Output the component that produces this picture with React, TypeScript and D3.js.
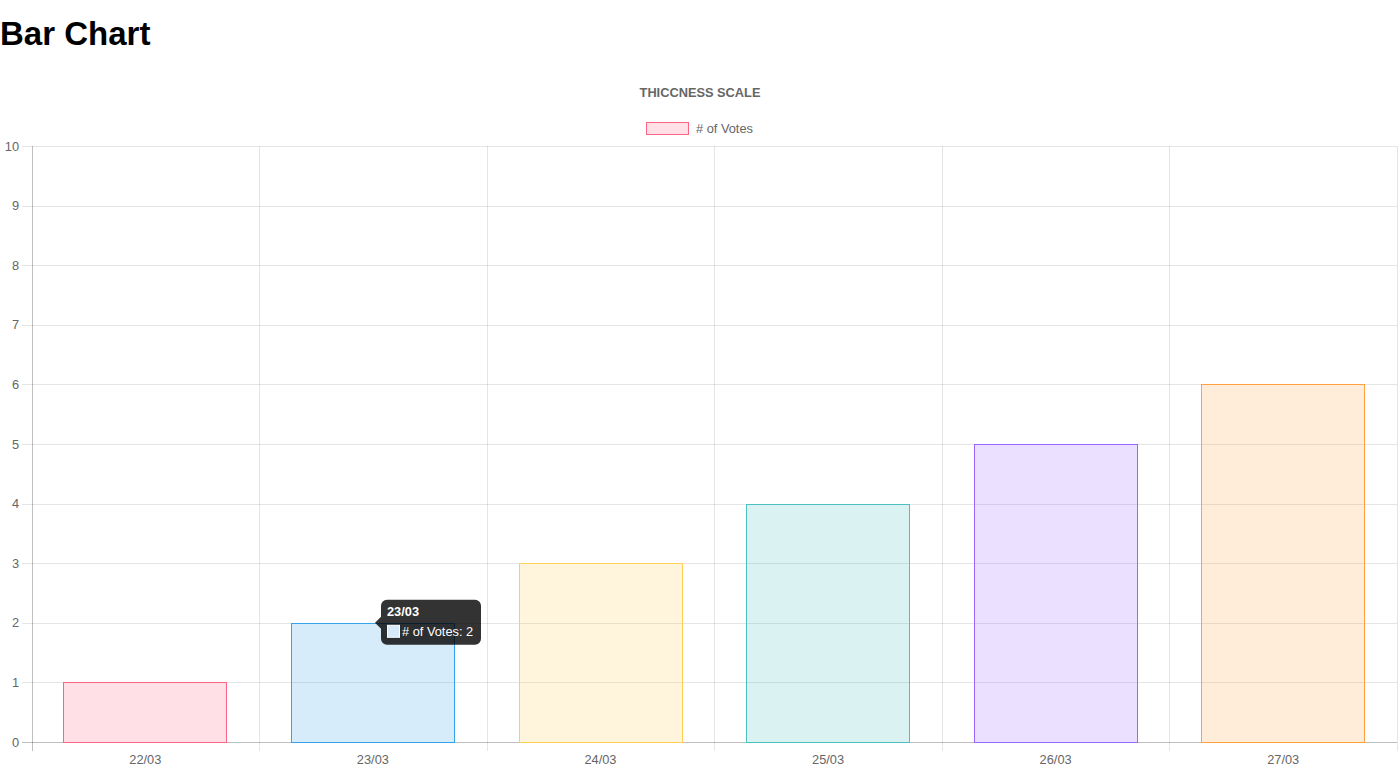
import React from "react";
import * as d3 from "d3";

const categories = ["22/03", "23/03", "24/03", "25/03", "26/03", "27/03"];
const votes = [1, 2, 3, 4, 5, 6];
const borderColors = [
  "rgb(255,99,132)",
  "rgb(54,162,235)",
  "rgb(255,206,86)",
  "rgb(75,192,192)",
  "rgb(153,102,255)",
  "rgb(255,159,64)",
];
const fillColors = [
  "rgba(255,99,132,0.2)",
  "rgba(54,162,235,0.2)",
  "rgba(255,206,86,0.2)",
  "rgba(75,192,192,0.2)",
  "rgba(153,102,255,0.2)",
  "rgba(255,159,64,0.2)",
];
const yTicks = [0, 1, 2, 3, 4, 5, 6, 7, 8, 9, 10];
const chartTitle = "THICCNESS SCALE";
const seriesLabel = "# of Votes";
const tooltipIndex = 1;

const W = 1400;
const H = 774;
const FONT = "'Liberation Sans', Arial, Helvetica, sans-serif";
const FS = 12.8;

export default function App() {
  if (typeof document !== "undefined") {
    document.body.style.margin = "0";
  }
  const left = 31.5;
  const right = 1397;
  const top = 146;
  const bottom = 742;

  const x = d3.scaleBand<string>().domain(categories).range([left, right]).paddingInner(0).paddingOuter(0);
  const y = d3.scaleLinear().domain([0, 10]).range([bottom, top]);
  const bw = x.bandwidth() * 0.72;

  const bounds = categories.map((_, i) => left + i * x.step());
  bounds.push(right);

  const tc = categories[tooltipIndex];
  const ty = y(votes[tooltipIndex]);
  const bx0 = 381;
  const bx1 = 481;
  const by0 = ty - 23;
  const by1 = ty + 22;
  const r = 6;
  const tipPath = `M ${bx0 + r} ${by0} H ${bx1 - r} A ${r} ${r} 0 0 1 ${bx1} ${by0 + r} V ${by1 - r} A ${r} ${r} 0 0 1 ${bx1 - r} ${by1} H ${bx0 + r} A ${r} ${r} 0 0 1 ${bx0} ${by1 - r} V ${ty + 6} L ${bx0 - 6} ${ty} L ${bx0} ${ty - 6} V ${by0 + r} A ${r} ${r} 0 0 1 ${bx0 + r} ${by0} Z`;

  return (
    <svg width={W} height={H} style={{ display: "block" }} fontFamily={FONT}>
      <text x={0} y={45} fontSize={33} fontWeight="bold" fill="#000">Bar Chart</text>
      <text x={700} y={97} textAnchor="middle" fontSize={FS} fontWeight="bold" fill="#666">{chartTitle}</text>
      <rect x={646.5} y={122.5} width={42} height={12} fill={fillColors[0]} stroke={borderColors[0]} strokeWidth={1} />
      <text x={696} y={133} fontSize={FS} fill="#666">{seriesLabel}</text>

      {yTicks.map((t) => (
        <g key={"y" + t}>
          <line x1={22} x2={right} y1={Math.round(y(t)) + 0.5} y2={Math.round(y(t)) + 0.5}
            stroke={t === 0 ? "rgba(0,0,0,0.25)" : "rgba(0,0,0,0.1)"} />
          <text x={19} y={y(t) + 4.5} textAnchor="end" fontSize={FS} fill="#666">{t}</text>
        </g>
      ))}
      {bounds.map((b, i) => (
        <line key={"v" + i} x1={Math.round(b) + 0.5} x2={Math.round(b) + 0.5} y1={top} y2={bottom + 9}
          stroke={i === 0 ? "rgba(0,0,0,0.25)" : "rgba(0,0,0,0.1)"} />
      ))}
      {categories.map((c) => (
        <text key={"xl" + c} x={(x(c) as number) + x.bandwidth() / 2} y={764} textAnchor="middle" fontSize={FS} fill="#666">{c}</text>
      ))}

      {categories.map((c, i) => {
        const bx = (x(c) as number) + x.bandwidth() / 2 - bw / 2;
        const by = y(votes[i]);
        return (
          <rect key={"b" + c} x={Math.round(bx) + 0.5} y={Math.round(by) + 0.5} width={Math.round(bw) - 1} height={bottom - Math.round(by)}
            fill={fillColors[i]} stroke={borderColors[i]} strokeWidth={1} />
        );
      })}

      <g>
        <path d={tipPath} fill="rgba(0,0,0,0.8)" />
        <text x={387} y={ty - 7} fontSize={FS} fontWeight="bold" fill="#fff">{tc}</text>
        <rect x={387.5} y={ty + 2.5} width={12} height={12} fill="rgba(214,234,250,1)" stroke="#fff" strokeWidth={1} />
        <text x={402} y={ty + 13.5} fontSize={FS} fill="#fff">{`${seriesLabel}: ${votes[tooltipIndex]}`}</text>
      </g>
    </svg>
  );
}
